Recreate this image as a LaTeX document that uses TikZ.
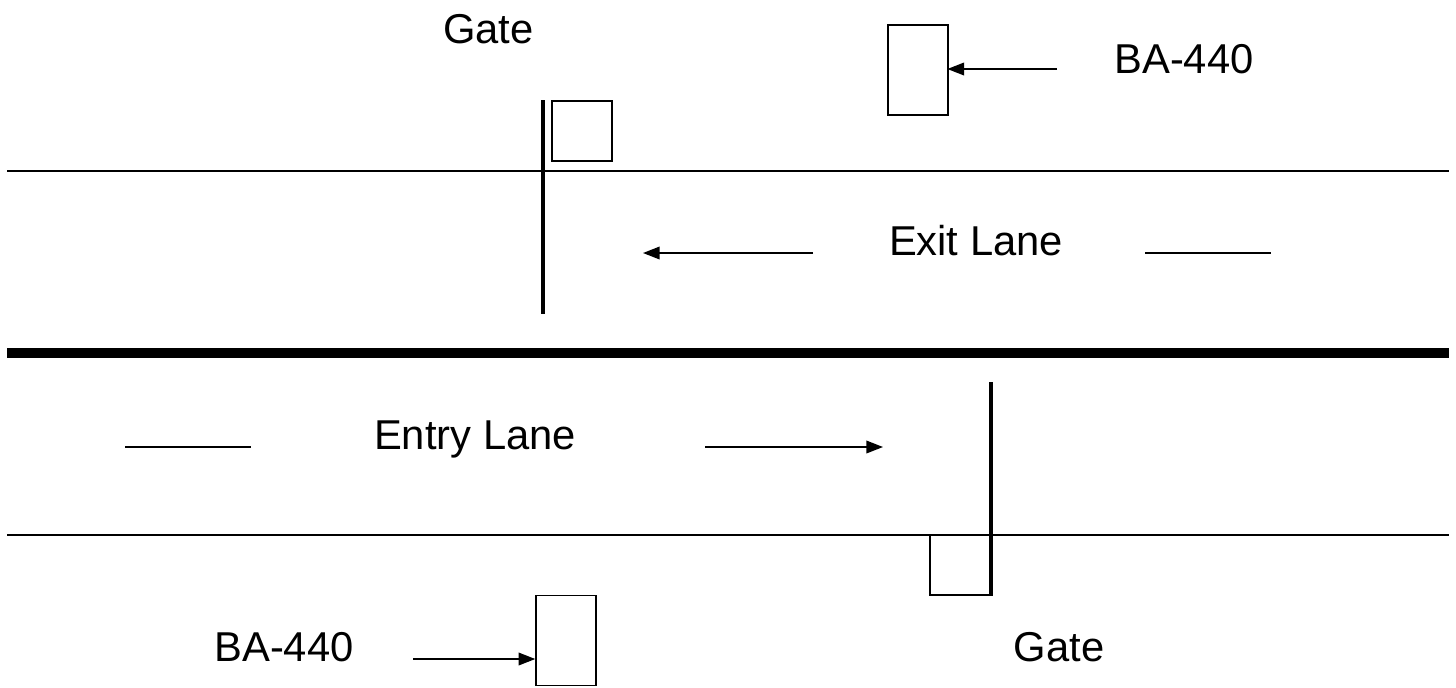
\documentclass[tikz,border=0pt]{standalone}
\usepackage{fontspec}
\setmainfont{Liberation Sans}
\usetikzlibrary{arrows.meta}
\tikzset{
  thin line/.style={line width=1.1pt,black},
  gate bar/.style={line width=2.6pt,black},
  box/.style={draw=black,line width=1.1pt,inner sep=0pt,fill=none},
  lbl/.style={font=\fontsize{31.3pt}{38pt}\selectfont,inner sep=0pt,anchor=base},
  arr/.style={thin line,-{Triangle[length=12.5pt,width=9.5pt]}}
}
\begin{document}
\begin{tikzpicture}[x=0.75pt,y=-0.75pt]
\useasboundingbox (0,0) rectangle (1456,687);
\fill[white] (0,0) rectangle (1456,687);
% road lines
\coordinate (r1a) at (7,171); \coordinate (r1b) at (1449,171);
\coordinate (r2a) at (7,353); \coordinate (r2b) at (1449,353);
\coordinate (r3a) at (7,535); \coordinate (r3b) at (1449,535);
\draw[thin line] (r1a) -- (r1b);
\draw[line width=7.5pt,black] (r2a) -- (r2b);
\draw[thin line] (r3a) -- (r3b);
% gates
\coordinate (g1a) at (543,100); \coordinate (g1b) at (543,314);
\coordinate (g2a) at (991,382); \coordinate (g2b) at (991,596);
\draw[gate bar] (g1a) -- (g1b);
\draw[gate bar] (g2a) -- (g2b);
% boxes
\node[box,minimum width=45pt,minimum height=45pt] (b1) at (582,131) {};
\node[box,minimum width=45pt,minimum height=45pt] (b2) at (960,565) {};
\node[box,minimum width=45pt,minimum height=67.5pt] (c1) at (918,70) {};
\node[box,minimum width=45pt,minimum height=67.5pt] (c2) at (566,640.4) {};
% labels
\node[lbl] (t1) at (488.5,43.5) {Gate};
\node[lbl] (t2) at (1184,73) {BA-440};
\node[lbl] (t3) at (976,255) {Exit Lane};
\node[lbl] (t4) at (475,449) {Entry Lane};
\node[lbl] (t5) at (284,661) {BA-440};
\node[lbl] (t6) at (1059,661) {Gate};
% arrows
\coordinate (a1) at (1057,69);
\draw[arr,shorten >=-1pt] (a1) -- (a1 -| c1.east);
\coordinate (a2a) at (813,253); \coordinate (a2b) at (643,253);
\draw[arr] (a2a) -- (a2b);
\coordinate (l1a) at (1145,253); \coordinate (l1b) at (1271,253);
\draw[thin line] (l1a) -- (l1b);
\coordinate (l2a) at (125,447); \coordinate (l2b) at (251,447);
\draw[thin line] (l2a) -- (l2b);
\coordinate (a3a) at (705,447); \coordinate (a3b) at (883,447);
\draw[arr] (a3a) -- (a3b);
\coordinate (a4) at (413,659);
\draw[arr] (a4) -- (a4 -| c2.west);
\end{tikzpicture}
\end{document}
